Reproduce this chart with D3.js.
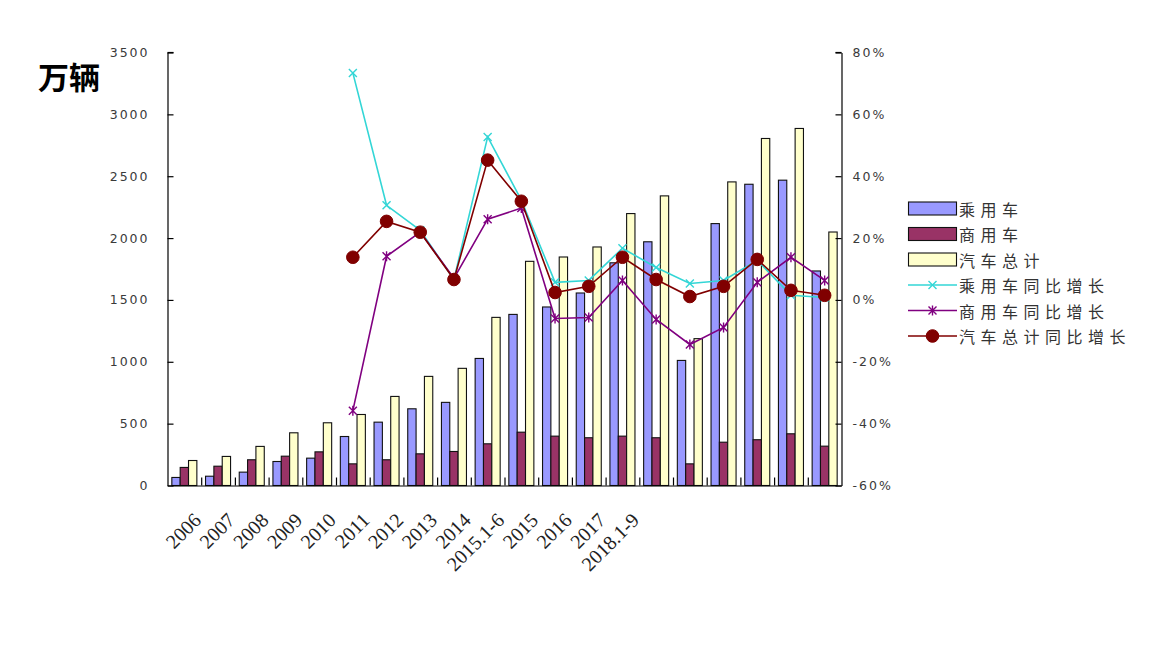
<!DOCTYPE html>
<html>
<head>
<meta charset="utf-8">
<script src="https://cdn.jsdelivr.net/npm/d3@7/dist/d3.min.js"></script>
<style>
  html, body { margin: 0; padding: 0; background: #fff; }
  svg { display: block; }
</style>
</head>
<body>
<svg id="chart" width="1156" height="670"></svg>
<script>
// Vehicle sales (万辆) per period and year-on-year growth (%)
const groupCount = 20;
const tickLabels = ["2006", "2007", "2008", "2009", "2010", "2011", "2012", "2013", "2014",
  "2015.1-6", "2015", "2016", "2017", "2018.1-9", "", "", "", "", "", ""];

const passengerSales  = [65, 75, 108, 194, 221, 396, 512, 620, 672, 1027, 1383, 1443, 1556, 1800, 1970, 1011, 2117, 2435, 2468, 1734];
const commercialSales = [146, 156, 208, 237, 272, 175, 208, 256, 275, 337, 431, 399, 386, 399, 386, 175, 350, 370, 418, 318];
const totalSales      = [202, 235, 316, 426, 507, 574, 720, 882, 947, 1359, 1812, 1847, 1928, 2198, 2341, 1187, 2454, 2805, 2886, 2049];

const passengerGrowth  = [null, null, null, null, null, 73.4, 30.6, 22.5, 6.6, 52.7, 32.3, 5.7, 6.3, 16.7, 10.5, 5.3, 6.3, 12.8, 1.5, 0.8];
const commercialGrowth = [null, null, null, null, null, -35.8, 14.1, 21.9, 7.0, 26.1, 29.7, -6.0, -5.7, 6.3, -6.3, -14.4, -8.9, 5.7, 13.8, 6.3];
const totalGrowth      = [null, null, null, null, null, 13.8, 25.4, 21.9, 6.6, 45.2, 31.9, 2.4, 4.4, 13.8, 6.6, 1.1, 4.4, 13.1, 3.1, 1.5];

const leftTicks  = [0, 500, 1000, 1500, 2000, 2500, 3000, 3500];
const rightTicks = [-60, -40, -20, 0, 20, 40, 60, 80];

const barSeries = [
  { name: "乘用车", values: passengerSales,  fill: "#9999FF" },
  { name: "商用车", values: commercialSales, fill: "#993366" },
  { name: "汽车总计", values: totalSales,    fill: "#FFFFCC" }
];
const lineSeries = [
  { name: "乘用车同比增长",  values: passengerGrowth,  color: "#33D6D6", marker: "x" },
  { name: "商用车同比增长",  values: commercialGrowth, color: "#800080", marker: "star" },
  { name: "汽车总计同比增长", values: totalGrowth,     color: "#800000", marker: "dot" }
];

const svg = d3.select("#chart");
svg.append("rect").attr("width", 1156).attr("height", 670).attr("fill", "#fff");

const plot = { left: 167.5, right: 841.5, top: 52.5, bottom: 485.5 };

const x0 = d3.scaleBand().domain(d3.range(groupCount)).range([plot.left, plot.right]).paddingInner(0).paddingOuter(0);
const x1 = d3.scaleBand().domain(barSeries.map(s => s.name)).range([0, x0.bandwidth()]).paddingInner(0).paddingOuter(0.52);
const xEdge = d3.scaleLinear().domain([0, groupCount]).range([plot.left, plot.right]);
const yL = d3.scaleLinear().domain([0, 3500]).range([plot.bottom, plot.top]);
const yR = d3.scaleLinear().domain([-60, 80]).range([plot.bottom, plot.top]);

// Bars
const bars = svg.append("g");
barSeries.forEach(s => {
  bars.selectAll(null).data(s.values).join("rect")
    .attr("x", (d, i) => x0(i) + x1(s.name))
    .attr("y", d => yL(d))
    .attr("width", x1.bandwidth())
    .attr("height", d => yL(0) - yL(d))
    .attr("fill", s.fill)
    .attr("stroke", "#111")
    .attr("stroke-width", 1.1);
});

// Axes
const numFont = "'DejaVu Sans', Verdana, sans-serif";
const leftAxis = svg.append("g").attr("transform", `translate(${plot.left},0)`)
  .call(d3.axisLeft(yL).tickValues(leftTicks).tickSizeInner(-6).tickSizeOuter(0).tickPadding(20)
    .tickFormat(d3.format("d")));
const rightAxis = svg.append("g").attr("transform", `translate(${plot.right},0)`)
  .call(d3.axisRight(yR).tickValues(rightTicks).tickSizeInner(-6).tickSizeOuter(0).tickPadding(11)
    .tickFormat(d => (d < 0 ? "-" + Math.abs(d) : d) + "%"));
const bottomAxis = svg.append("g").attr("transform", `translate(0,${plot.bottom})`)
  .call(d3.axisBottom(xEdge).tickValues(d3.range(1, groupCount)).tickSizeInner(-8).tickSizeOuter(0).tickFormat(""));

[leftAxis, rightAxis, bottomAxis].forEach(a => {
  a.select(".domain").attr("stroke", "#000").attr("stroke-width", 1.2);
  a.selectAll(".tick line").attr("stroke", "#000").attr("stroke-width", 1.2);
  a.selectAll(".tick text").attr("fill", "#3a3a3a").style("font-family", numFont)
    .style("font-size", "12.5px").style("letter-spacing", "2px");
});
leftAxis.selectAll(".tick text").attr("dx", "2px");
// short caps at the top of both value axes
svg.append("line").attr("x1", plot.left).attr("x2", plot.left + 6).attr("y1", plot.top).attr("y2", plot.top).attr("stroke", "#000").attr("stroke-width", 1.2);
svg.append("line").attr("x1", plot.right - 6).attr("x2", plot.right).attr("y1", plot.top).attr("y2", plot.top).attr("stroke", "#000").attr("stroke-width", 1.2);

// Rotated category labels
svg.append("g").selectAll("text").data(tickLabels).join("text")
  .attr("transform", (d, i) => `translate(${x0(i) + x0.bandwidth() / 2 + 18},${plot.bottom + 36}) rotate(-45)`)
  .attr("text-anchor", "end")
  .attr("fill", "#222")
  .style("font-family", "'Liberation Serif', 'Times New Roman', serif")
  .style("font-size", "20px")
  .text(d => d);

// Unit label
svg.append("text").attr("x", 38).attr("y", 89)
  .style("font-family", "'Noto Sans CJK SC', sans-serif")
  .style("font-size", "31px").style("font-weight", 700)
  .attr("fill", "#000").text("万辆");

// Markers
function drawMarker(g, type, color, cx, cy) {
  if (type === "x") {
    const r = 4;
    g.append("path").attr("d", `M${cx - r},${cy - r}L${cx + r},${cy + r}M${cx - r},${cy + r}L${cx + r},${cy - r}`)
      .attr("stroke", color).attr("stroke-width", 1.4).attr("fill", "none");
  } else if (type === "star") {
    const r = 4;
    g.append("path").attr("d", `M${cx - r},${cy - r}L${cx + r},${cy + r}M${cx - r},${cy + r}L${cx + r},${cy - r}M${cx},${cy - r - 1}L${cx},${cy + r + 1}`)
      .attr("stroke", color).attr("stroke-width", 1.4).attr("fill", "none");
  } else {
    g.append("circle").attr("cx", cx).attr("cy", cy).attr("r", 6.3).attr("fill", color).attr("stroke", color);
  }
}

// Growth lines (right axis)
const cx = i => x0(i) + x0.bandwidth() / 2;
const line = d3.line().defined(d => d != null).x((d, i) => cx(i)).y(d => yR(d));
lineSeries.forEach(s => {
  const g = svg.append("g");
  g.append("path").datum(s.values).attr("d", line)
    .attr("fill", "none").attr("stroke", s.color).attr("stroke-width", 1.6);
  s.values.forEach((v, i) => { if (v != null) drawMarker(g, s.marker, s.color, cx(i), yR(v)); });
});

// Legend
const legend = svg.append("g");
const rowY = [208.5, 234, 259.5, 285, 310.5, 336];
const legendItems = barSeries.map(s => ({ name: s.name, kind: "bar", color: s.fill }))
  .concat(lineSeries.map(s => ({ name: s.name, kind: s.marker, color: s.color })));
legendItems.forEach((it, k) => {
  const y = rowY[k];
  if (it.kind === "bar") {
    legend.append("rect").attr("x", 908.5).attr("y", y - 6.5).attr("width", 48).attr("height", 13)
      .attr("fill", it.color).attr("stroke", "#111").attr("stroke-width", 1.1);
  } else {
    legend.append("line").attr("x1", 908).attr("x2", 957).attr("y1", y).attr("y2", y)
      .attr("stroke", it.color).attr("stroke-width", 1.6);
    drawMarker(legend, it.kind, it.color, 932.5, y);
  }
  legend.append("text").attr("x", 959).attr("y", y).attr("dominant-baseline", "central")
    .style("font-family", "'Noto Sans CJK SC', sans-serif").style("font-size", "16px")
    .style("letter-spacing", "5.5px").attr("fill", "#333").text(it.name);
});
</script>
</body>
</html>
